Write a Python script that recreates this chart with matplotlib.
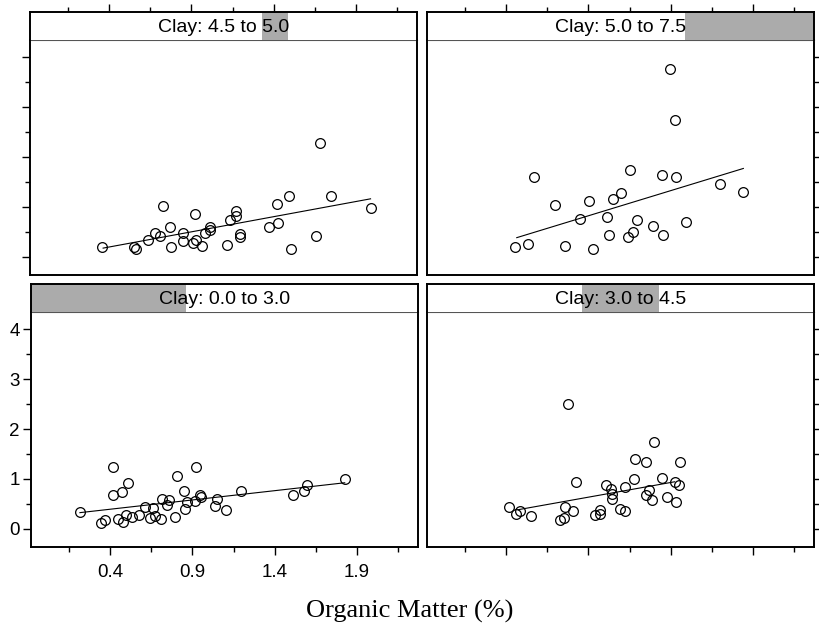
"""Trellis scatter of response vs organic matter, conditioned on clay."""
import matplotlib

matplotlib.use("Agg")
import matplotlib.pyplot as plt
from matplotlib.patches import Rectangle

# Clay shingle: full range of the conditioning variable, one interval per panel
clay_range = (0.0, 7.5)
# panel order: top-left, top-right, bottom-left, bottom-right
clay_lo = [4.5, 5.0, 0.0, 3.0]
clay_hi = [5.0, 7.5, 3.0, 4.5]

# Clay 4.5 to 5.0
om_a = [0.357, 0.55, 0.566, 0.637, 0.678, 0.708, 0.728, 0.769, 0.777, 0.85, 0.85,
        0.919, 0.911, 0.925, 0.965, 0.985, 1.012, 1.012, 1.117, 1.137, 1.168,
        1.168, 1.198, 1.198, 1.371, 1.426, 1.421, 1.492, 1.506, 1.654, 1.684,
        1.75, 1.988]
y_a = [0.19, 0.20, 0.155, 0.34, 0.47, 0.42, 1.02, 0.59, 0.20, 0.48, 0.32,
       0.86, 0.27, 0.34, 0.22, 0.48, 0.54, 0.59, 0.24, 0.73, 0.81,
       0.92, 0.46, 0.39, 0.60, 0.67, 1.06, 1.21, 0.155, 0.42, 2.29,
       1.22, 0.98]
fit_x_a = [0.364, 1.988]
fit_y_a = [0.17, 1.16]

# Clay 5.0 to 7.5
om_b = [0.457, 0.536, 0.569, 0.699, 0.76, 0.851, 0.906, 0.926, 1.012, 1.028,
        1.048, 1.097, 1.138, 1.154, 1.173, 1.195, 1.29, 1.349, 1.353, 1.398,
        1.424, 1.432, 1.49, 1.699, 1.841]
y_b = [0.19, 0.26, 1.60, 1.04, 0.22, 0.75, 1.12, 0.155, 0.80, 0.43,
       1.16, 1.28, 0.40, 1.73, 0.50, 0.74, 0.62, 1.64, 0.43, 3.77,
       2.74, 1.59, 0.69, 1.46, 1.30]
fit_x_b = [0.465, 1.841]
fit_y_b = [0.38, 1.77]

# Clay 0.0 to 3.0
om_c = [0.217, 0.343, 0.37, 0.416, 0.416, 0.447, 0.477, 0.475, 0.508, 0.498,
        0.532, 0.573, 0.613, 0.644, 0.658, 0.674, 0.711, 0.715, 0.746, 0.76,
        0.792, 0.807, 0.847, 0.853, 0.868, 0.914, 0.924, 0.949, 0.955, 1.04,
        1.051, 1.105, 1.193, 1.508, 1.577, 1.597, 1.825]
y_c = [0.33, 0.12, 0.17, 1.24, 0.68, 0.20, 0.13, 0.73, 0.92, 0.28,
       0.23, 0.27, 0.43, 0.22, 0.41, 0.25, 0.19, 0.60, 0.47, 0.57,
       0.23, 1.06, 0.75, 0.39, 0.53, 0.55, 1.24, 0.68, 0.63, 0.45,
       0.60, 0.37, 0.75, 0.68, 0.75, 0.88, 0.99]
fit_x_c = [0.217, 1.825]
fit_y_c = [0.32, 0.92]

# Clay 3.0 to 4.5
om_d = [0.418, 0.463, 0.484, 0.551, 0.727, 0.754, 0.76, 0.804, 0.778, 0.825,
        0.943, 0.973, 0.97, 1.004, 1.038, 1.045, 1.045, 1.089, 1.12, 1.124,
        1.174, 1.185, 1.248, 1.248, 1.268, 1.286, 1.30, 1.347, 1.38, 1.426,
        1.449, 1.435, 1.459]
y_d = [0.43, 0.29, 0.35, 0.25, 0.18, 0.22, 0.43, 0.35, 2.51, 0.94,
       0.28, 0.29, 0.37, 0.87, 0.80, 0.70, 0.59, 0.40, 0.35, 0.84,
       1.00, 1.39, 1.34, 0.67, 0.78, 0.57, 1.73, 1.02, 0.63, 0.94,
       0.88, 0.53, 1.34]
fit_x_d = [0.475, 1.424]
fit_y_d = [0.38, 0.94]

x_major = [0.4, 0.9, 1.4, 1.9]
x_minor = [0.15, 0.65, 1.15, 1.65, 2.15]
y_major = [0, 1, 2, 3, 4]
y_minor = [0.5, 1.5, 2.5, 3.5]
xlim = (-0.08, 2.27)
ylim = (-0.37, 4.35)

SHADE = "#ababab"
SANS = "Liberation Sans"

W, H = 820, 623
PANEL_W = 387 / W
PLOT_H = 235 / H
STRIP_H = 28 / H
# (left, bottom of plot region, column, row)
layout = [
    (30 / W, 1 - 275 / H, 0, 0),
    (427 / W, 1 - 275 / H, 1, 0),
    (31 / W, 1 - 547 / H, 0, 1),
    (427 / W, 1 - 547 / H, 1, 1),
]
panels = [
    (om_a, y_a, fit_x_a, fit_y_a),
    (om_b, y_b, fit_x_b, fit_y_b),
    (om_c, y_c, fit_x_c, fit_y_c),
    (om_d, y_d, fit_x_d, fit_y_d),
]


def _style_ticks(ax, axis, side, labels):
    kw = dict(direction="out", width=1.0, color="black",
              labelsize=13.5, labelfontfamily=SANS)
    ax.tick_params(axis=axis, which="major", length=6, pad=2 if axis == "y" else 6, **kw)
    ax.tick_params(axis=axis, which="minor", length=3.5, **kw)
    if axis == "x":
        ax.set_xticks(x_major)
        ax.set_xticks(x_minor, minor=True)
        ax.tick_params(axis="x", which="both", top=side == "top",
                       bottom=side == "bottom", labeltop=False,
                       labelbottom=labels)
    else:
        ax.set_yticks(y_major)
        ax.set_yticks(y_minor, minor=True)
        ax.tick_params(axis="y", which="both", left=side == "left",
                       right=side == "right", labelleft=labels,
                       labelright=False)


fig = plt.figure(figsize=(W / 100, H / 100), dpi=100)

for (left, bottom, col, row), (xs, ys, fx, fy), lo, hi in zip(
        layout, panels, clay_lo, clay_hi):
    ax = fig.add_axes([left, bottom, PANEL_W, PLOT_H])
    ax.plot(xs, ys, "o", ms=7, mfc="none", mec="black", mew=0.9)
    ax.plot(fx, fy, "-", color="black", lw=0.8)
    ax.set_xlim(xlim)
    ax.set_ylim(ylim)
    for s in ax.spines.values():
        s.set_linewidth(1.4)
    ax.spines["top"].set_linewidth(0.8)
    ax.spines["top"].set_color("#555555")

    _style_ticks(ax, "y", "left" if col == 0 else "right", col == 0 and row == 1)
    if row == 1:
        _style_ticks(ax, "x", "bottom", col == 0)
    else:
        ax.set_xticks([])

    # strip with the shingle interval shaded
    st = fig.add_axes([left, bottom + PLOT_H, PANEL_W, STRIP_H])
    st.set_xlim(xlim)
    st.set_ylim(0, 1)
    span = clay_range[1] - clay_range[0]
    st.add_patch(Rectangle(((lo - clay_range[0]) / span, 0), (hi - lo) / span, 1,
                           transform=st.transAxes, color=SHADE, lw=0, zorder=1))
    st.text(0.5, 0.45, f"Clay: {lo:.1f} to {hi:.1f}", transform=st.transAxes,
            ha="center", va="center", fontsize=14, family=SANS, zorder=3)
    for name, s in st.spines.items():
        s.set_linewidth(1.4)
    st.spines["bottom"].set_visible(False)
    st.set_yticks([])
    if row == 0:
        _style_ticks(st, "x", "top", False)
    else:
        st.set_xticks([])

fig.text(0.5, 1 - 618 / H, "Organic Matter (%)", ha="center", va="baseline",
         fontsize=19, family="Liberation Serif")

fig.savefig("out.png", dpi=100)
